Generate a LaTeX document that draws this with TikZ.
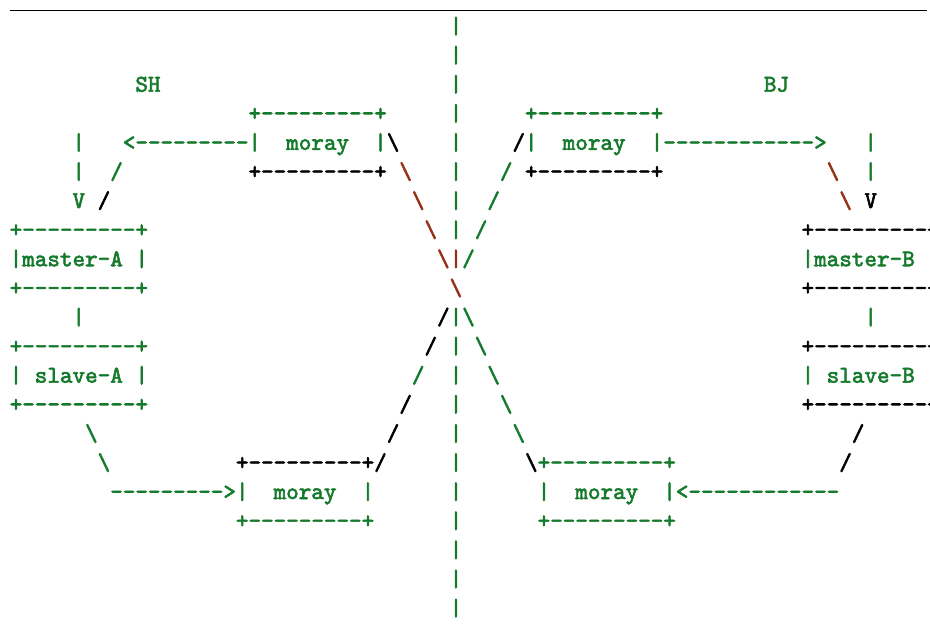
\documentclass[tikz,border=0pt]{standalone}
\usepackage{xcolor}
% heavier Latin Modern Mono for the listing text
\font\codefont="[lmmono10-regular]:embolden=2.5" at 23.94pt
\definecolor{codegreen}{RGB}{22,122,44}
\definecolor{codered}{RGB}{150,48,22}
\definecolor{codeblack}{RGB}{0,0,0}
% a run of hyphens that never turns into dashes
\ExplSyntaxOn
\NewDocumentCommand \dsh { m } { \prg_replicate:nn {#1} { - \kern 0pt } }
\ExplSyntaxOff
\newcommand\bksl{\textbackslash}
\tikzset{
  chars/.style={anchor=base west, inner sep=0pt, outer sep=0pt,
    font=\codefont},
  gr/.style={chars, text=codegreen},
  rd/.style={chars, text=codered},
  bk/.style={chars, text=codeblack},
  rule/.style={draw=codeblack, line width=0.8pt},
}
% style, name, column, row, text
\newcommand\cell[5]{\node[#1] (#2) at ({9.7+(#3)*12.57},{33.4+(#4)*29.1}) {#5};}
\begin{document}
\begin{tikzpicture}[x=1pt, y=-1pt]
\useasboundingbox (0,0) rectangle (930,627);
\coordinate (ruleL) at (10,10);
\coordinate (ruleR) at (927,10);
\draw[rule] (ruleL) -- (ruleR);

% centre divider
\foreach \r in {0,...,7,10,11,...,20}{
  \cell{gr}{bar\r}{35}{\r}{|}
}

% row 2
\cell{gr}{sh}{10}{2}{SH}
\cell{gr}{bj}{60}{2}{BJ}
% row 3
\cell{gr}{shTop}{19}{3}{+\dsh{9}+}
\cell{gr}{bjTop}{41}{3}{+\dsh{9}+}
% row 4
\cell{gr}{a4}{5}{4}{|}
\cell{gr}{shMoray}{9}{4}{<\dsh{9}|~~moray~~|}
\cell{bk}{x4}{30}{4}{\bksl}
\cell{bk}{y4}{40}{4}{/}
\cell{gr}{bjMoray}{41}{4}{|~~moray~~|\dsh{12}>}
\cell{gr}{w4}{68}{4}{|}
% row 5
\cell{gr}{a5}{5}{5}{|}
\cell{gr}{b5}{8}{5}{/}
\cell{bk}{shBot}{19}{5}{+\dsh{9}+}
\cell{rd}{x5}{31}{5}{\bksl}
\cell{gr}{y5}{39}{5}{/}
\cell{bk}{bjBot}{41}{5}{+\dsh{9}+}
\cell{rd}{z5}{65}{5}{\bksl}
\cell{gr}{w5}{68}{5}{|}
% row 6
\cell{gr}{a6}{5}{6}{V}
\cell{bk}{b6}{7}{6}{/}
\cell{rd}{x6}{32}{6}{\bksl}
\cell{gr}{y6}{38}{6}{/}
\cell{rd}{z6}{66}{6}{\bksl}
\cell{bk}{w6}{68}{6}{V}
% row 7
\cell{gr}{mATop}{0}{7}{+\dsh{9}+}
\cell{rd}{x7}{33}{7}{\bksl}
\cell{gr}{y7}{37}{7}{/}
\cell{bk}{mBTop}{63}{7}{+\dsh{9}+}
% row 8
\cell{gr}{masterA}{0}{8}{|master-A~|}
\cell{rd}{x8}{34}{8}{\bksl|}
\cell{gr}{y8}{36}{8}{/}
\cell{gr}{masterB}{63}{8}{|master-B~|}
% row 9
\cell{gr}{mABot}{0}{9}{+\dsh{9}+}
\cell{rd}{x9}{35}{9}{\bksl}
\cell{bk}{mBBot}{63}{9}{+\dsh{9}+}
% row 10
\cell{gr}{a10}{5}{10}{|}
\cell{bk}{x10}{34}{10}{/}
\cell{gr}{y10}{36}{10}{\bksl}
\cell{gr}{w10}{68}{10}{|}
% row 11
\cell{gr}{sATop}{0}{11}{+\dsh{9}+}
\cell{bk}{x11}{33}{11}{/}
\cell{gr}{y11}{37}{11}{\bksl}
\cell{bk}{sBTop}{63}{11}{+\dsh{9}+}
% row 12
\cell{gr}{slaveA}{0}{12}{|~slave-A~|}
\cell{gr}{x12}{32}{12}{/}
\cell{gr}{y12}{38}{12}{\bksl}
\cell{gr}{slaveB}{63}{12}{|~slave-B~|}
% row 13
\cell{gr}{sABot}{0}{13}{+\dsh{9}+}
\cell{bk}{x13}{31}{13}{/}
\cell{gr}{y13}{39}{13}{\bksl}
\cell{bk}{sBBot}{63}{13}{+\dsh{9}+}
% row 14
\cell{gr}{a14}{6}{14}{\bksl}
\cell{bk}{x14}{30}{14}{/}
\cell{gr}{y14}{40}{14}{\bksl}
\cell{bk}{w14}{67}{14}{/}
% row 15
\cell{gr}{a15}{7}{15}{\bksl}
\cell{bk}{shLowTop}{18}{15}{+\dsh{9}+/}
\cell{bk}{y15}{41}{15}{\bksl}
\cell{gr}{bjLowTop}{42}{15}{+\dsh{9}+}
\cell{bk}{w15}{66}{15}{/}
% row 16
\cell{gr}{shLow}{8}{16}{\dsh{9}>|~~moray~~|}
\cell{gr}{bjLow}{42}{16}{|~~moray~~|<\dsh{12}}
% row 17
\cell{gr}{shLowBot}{18}{17}{+\dsh{9}+}
\cell{gr}{bjLowBot}{42}{17}{+\dsh{9}+}
\end{tikzpicture}
\end{document}
